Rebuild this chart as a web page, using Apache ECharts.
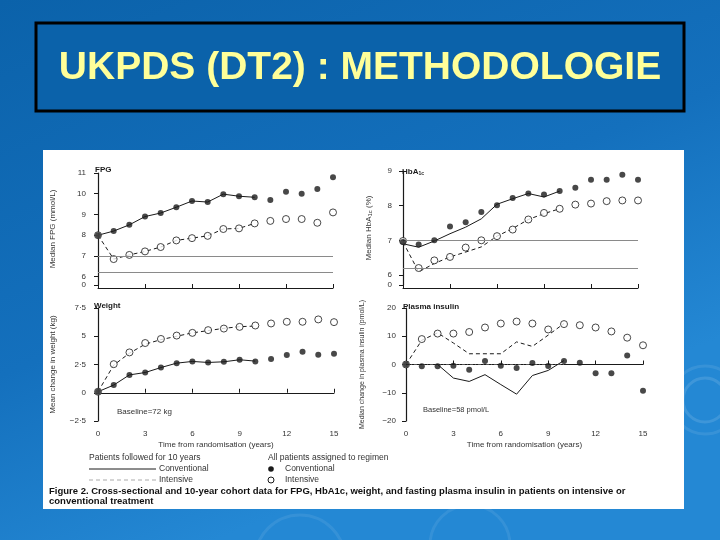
<!DOCTYPE html>
<html>
<head>
<meta charset="utf-8">
<script src="https://cdn.jsdelivr.net/npm/echarts@6/dist/echarts.min.js"></script>
<style>
  html, body { margin: 0; padding: 0; }
  #main { width: 720px; height: 540px; }
</style>
</head>
<body>
<div id="main"></div>
<script>
// years of follow-up
const years = [0, 1, 2, 3, 4, 5, 6, 7, 8, 9, 10, 11, 12, 13, 14, 15]
const cohortYears = [0, 1, 2, 3, 4, 5, 6, 7, 8, 9, 10]

// FPG (mmol/L)
const fpgConv = [8.0, 8.2, 8.5, 8.9, 9.07, 9.35, 9.65, 9.6, 9.98, 9.88, 9.83, 9.7, 10.1, 10.0, 10.23, 10.8]
const fpgInt = [8.0, 6.85, 7.05, 7.22, 7.43, 7.75, 7.86, 7.97, 8.3, 8.33, 8.57, 8.69, 8.78, 8.78, 8.6, 9.1]
const fpgConvCohort = [8.0, 8.2, 8.5, 8.9, 9.07, 9.35, 9.65, 9.6, 9.98, 9.88, 9.83]
const fpgIntCohort = [8.0, 6.85, 7.05, 7.22, 7.43, 7.75, 7.86, 7.97, 8.3, 8.33, 8.57]

// HbA1c (%)
const hbConv = [6.95, 6.88, 7.0, 7.4, 7.52, 7.82, 8.01, 8.22, 8.35, 8.32, 8.42, 8.52, 8.75, 8.75, 8.89, 8.75]
const hbInt = [6.98, 6.2, 6.42, 6.52, 6.79, 7.0, 7.12, 7.31, 7.6, 7.79, 7.91, 8.03, 8.06, 8.13, 8.15, 8.15]
const hbConvCohort = [6.9, 6.8, 6.98, 7.19, 7.38, 7.62, 8.04, 8.2, 8.35, 8.25, 8.42]
const hbIntCohort = [6.95, 6.09, 6.33, 6.52, 6.66, 6.81, 7.12, 7.34, 7.6, 7.77, 7.91]

// weight change (kg)
const wtConv = [0.09, 0.68, 1.58, 1.79, 2.23, 2.62, 2.77, 2.68, 2.74, 2.92, 2.77, 2.98, 3.33, 3.63, 3.36, 3.45]
const wtInt = [0.09, 2.53, 3.57, 4.4, 4.76, 5.06, 5.3, 5.54, 5.68, 5.83, 5.95, 6.13, 6.28, 6.28, 6.49, 6.25]
const wtConvCohort = [0.09, 0.68, 1.58, 1.79, 2.23, 2.62, 2.77, 2.68, 2.74, 2.92, 2.8]
const wtIntCohort = [0.09, 2.45, 3.5, 4.3, 4.7, 5.0, 5.3, 5.5, 5.7, 5.85, 5.9]

// plasma insulin change (pmol/L)
const insConv = [0, -0.6, -0.6, -0.4, -1.9, 1.2, -0.4, -1.2, 0.5, -0.5, 1.2, 0.6, -3.1, -3.1, 3.2, -9.3]
const insInt = [0, 9.0, 10.95, 10.95, 11.5, 13.1, 14.5, 15.2, 14.5, 12.4, 14.3, 13.9, 13.1, 11.7, 9.5, 6.8]
const insConvCohort = [0, 0, 0, -4.8, -6.0, -3.6, -7.1, -10.5, -3.9, -2.1, 1.4]
const insIntCohort = [0, 8.6, 11.2, 7.6, 3.8, 3.8, 3.8, 8.0, 6.4, 10.4, 14.5]

const FONT = '"Liberation Sans", Arial, sans-serif'
const ink = '#1a1a1a'

const pairs = (xs, ys) => xs.map((x, i) => [x, ys[i]])
const dot = v => String(v).replace('.', '\u00b7').replace('-', '\u2212')

function panelSeries(idx, conv, int, convC, intC, marks) {
  return [
    {
      type: 'line', xAxisIndex: idx, yAxisIndex: idx, data: pairs(cohortYears, convC),
      symbol: 'none', lineStyle: { color: ink, width: 1 }, z: 3, markLine: marks
    },
    {
      type: 'line', xAxisIndex: idx, yAxisIndex: idx, data: pairs(cohortYears, intC),
      symbol: 'none', lineStyle: { color: ink, width: 1, type: [4, 3] }, z: 3
    },
    {
      type: 'scatter', xAxisIndex: idx, yAxisIndex: idx, data: pairs(years, conv),
      symbol: 'circle', symbolSize: 6, itemStyle: { color: ink }, z: 5
    },
    {
      type: 'scatter', xAxisIndex: idx, yAxisIndex: idx, data: pairs(years, int),
      symbol: 'circle', symbolSize: 7, itemStyle: { color: '#fff', borderColor: ink, borderWidth: 1 }, z: 4
    }
  ]
}

const refLines = {
  silent: true, symbol: 'none', label: { show: false },
  lineStyle: { color: '#8a8a8a', width: 1, type: 'solid' },
  data: [{ yAxis: 7 }, { yAxis: 6.2 }]
}
const zeroLine = {
  silent: true, symbol: 'none', label: { show: false },
  lineStyle: { color: '#555', width: 1, type: [3, 2, 1, 2] },
  data: [[{ coord: [0, 0] }, { coord: [10, 0] }]]
}

function xAx(idx, withLabels) {
  return {
    type: 'value', gridIndex: idx, min: 0, max: 15, interval: 3, offset: withLabels ? 4 : 3,
    axisLine: { lineStyle: { color: ink } },
    axisTick: { inside: true, length: 4, lineStyle: { color: ink } },
    axisLabel: { show: withLabels, fontSize: 8, color: '#333', fontFamily: FONT, margin: 5 },
    splitLine: { show: false },
    name: withLabels ? 'Time from randomisation (years)' : '',
    nameLocation: 'middle', nameGap: 16,
    nameTextStyle: { fontSize: 8, color: '#333', fontFamily: FONT }
  }
}

function yAx(idx, cfg) {
  const ax = {
    type: 'value', gridIndex: idx, min: cfg.min, max: cfg.max, offset: cfg.offset,
    axisLine: { show: true, lineStyle: { color: ink, width: 1.2 } },
    axisTick: { show: true, length: 4, lineStyle: { color: ink } },
    axisLabel: { fontSize: 8, color: '#333', fontFamily: FONT, margin: 3, formatter: cfg.fmt || dot },
    splitLine: { show: false },
    name: cfg.name, nameLocation: 'middle', nameGap: cfg.gap, nameRotate: 90,
    nameTextStyle: { fontSize: cfg.nameSize || 8, color: '#333', fontFamily: FONT, rich: { s: { fontSize: 6, verticalAlign: 'bottom' } } }
  }
  if (cfg.interval) ax.interval = cfg.interval
  if (cfg.ticks) {
    ax.axisLabel.customValues = cfg.ticks
    ax.axisTick.customValues = cfg.ticks
  }
  return ax
}

const fpgTicks = [5.6, 6, 7, 8, 9, 10, 11]
const hbTicks = [5.71, 6, 7, 8, 9]
const brk = lowest => v => (v < lowest + 0.2 ? '0' : String(v))

const chart = echarts.init(document.getElementById('main'))

const panelTitle = (text, left, top) => ({
  text, left, top,
  textStyle: { fontSize: 8, fontWeight: 'bold', color: ink, fontFamily: FONT,
    rich: { s: { fontSize: 5, fontWeight: 'bold', color: ink, verticalAlign: 'bottom' } } }
})

const smallText = (x, y, text, opts) => ({
  type: 'text', x, y, z: 10,
  style: Object.assign({ text, fill: '#333', font: '8.5px ' + FONT, textVerticalAlign: 'middle' }, opts || {})
})

chart.setOption({
  backgroundColor: {
    type: 'linear', x: 0, y: 0, x2: 0.3, y2: 1,
    colorStops: [{ offset: 0, color: '#0b62aa' }, { offset: 0.6, color: '#1470bd' }, { offset: 1, color: '#2488d4' }]
  },
  animation: false,
  title: [
    panelTitle('FPG', 90, 161),
    panelTitle('HbA{s|1c}', 397, 163),
    panelTitle('Weight', 89, 297),
    panelTitle('Plasma insulin', 398, 298)
  ],
  grid: [
    { left: 98, top: 173, width: 235, height: 112 },
    { left: 403, top: 171, width: 235, height: 114 },
    { left: 98, top: 308, width: 236, height: 113 },
    { left: 406, top: 308, width: 237, height: 113 }
  ],
  xAxis: [xAx(0, false), xAx(1, false), xAx(2, true), xAx(3, true)],
  yAxis: [
    yAx(0, { min: 5.6, max: 11, offset: 9, ticks: fpgTicks, fmt: brk(5.6), name: 'Median FPG (mmol/L)', gap: 32 }),
    yAx(1, { min: 5.71, max: 9, offset: 8, ticks: hbTicks, fmt: brk(5.71), name: 'Median HbA{s|1c} (%)', gap: 22 }),
    yAx(2, { min: -2.5, max: 7.5, interval: 2.5, offset: 9, name: 'Mean change in weight (kg)', gap: 32 }),
    yAx(3, { min: -20, max: 20, interval: 10, offset: 7, name: 'Median change in plasma insulin (pmol/L)', gap: 33, nameSize: 7 })
  ],
  series: [
    ...panelSeries(0, fpgConv, fpgInt, fpgConvCohort, fpgIntCohort, refLines),
    ...panelSeries(1, hbConv, hbInt, hbConvCohort, hbIntCohort, refLines),
    ...panelSeries(2, wtConv, wtInt, wtConvCohort, wtIntCohort, undefined),
    ...panelSeries(3, insConv, insInt, insConvCohort, insIntCohort, zeroLine)
  ],
  graphic: [
    // ripples on the slide background
    { type: 'circle', shape: { cx: 705, cy: 400, r: 22 }, style: { fill: 'none', stroke: 'rgba(255,255,255,0.12)', lineWidth: 3 }, z: -5 },
    { type: 'circle', shape: { cx: 705, cy: 400, r: 34 }, style: { fill: 'none', stroke: 'rgba(255,255,255,0.09)', lineWidth: 3 }, z: -5 },
    { type: 'circle', shape: { cx: 300, cy: 560, r: 45 }, style: { fill: 'none', stroke: 'rgba(255,255,255,0.08)', lineWidth: 3 }, z: -5 },
    { type: 'circle', shape: { cx: 470, cy: 545, r: 40 }, style: { fill: 'none', stroke: 'rgba(255,255,255,0.08)', lineWidth: 3 }, z: -5 },
    // title box
    { type: 'rect', shape: { x: 36, y: 23, width: 648, height: 88 }, style: { fill: '#0b62aa', stroke: '#000', lineWidth: 3 }, z: -2 },
    { type: 'text', x: 360, y: 68, z: 10,
      style: { text: 'UKPDS (DT2) : METHODOLOGIE', fill: '#ffff99', font: 'bold 39px ' + FONT, textAlign: 'center', textVerticalAlign: 'middle' } },
    // the white figure sheet
    { type: 'rect', shape: { x: 43, y: 150, width: 641, height: 359 }, style: { fill: '#fff' }, z: -1 },
    // notes in panels
    smallText(117, 412, 'Baseline=72 kg', { font: '8px ' + FONT }),
    smallText(423, 410, 'Baseline=58 pmol/L', { font: '7.5px ' + FONT }),
    // legend
    smallText(89, 458, 'Patients followed for 10 years'),
    { type: 'line', shape: { x1: 89, y1: 469, x2: 156, y2: 469 }, style: { stroke: ink, lineWidth: 1 }, z: 10 },
    smallText(159, 469, 'Conventional'),
    { type: 'line', shape: { x1: 89, y1: 480, x2: 156, y2: 480 }, style: { stroke: '#aaa', lineWidth: 1, lineDash: [4, 3] }, z: 10 },
    smallText(159, 480, 'Intensive'),
    smallText(268, 458, 'All patients assigned to regimen'),
    { type: 'circle', shape: { cx: 271, cy: 469, r: 2.8 }, style: { fill: ink }, z: 10 },
    smallText(285, 469, 'Conventional'),
    { type: 'circle', shape: { cx: 271, cy: 480, r: 3 }, style: { fill: '#fff', stroke: ink, lineWidth: 1 }, z: 10 },
    smallText(285, 480, 'Intensive'),
    // caption
    smallText(49, 491, 'Figure 2. Cross-sectional and 10-year cohort data for FPG, HbA1c, weight, and fasting plasma insulin in patients on intensive or',
      { fill: '#111', font: 'bold 9.5px ' + FONT }),
    smallText(49, 501, 'conventional treatment', { fill: '#111', font: 'bold 9.5px ' + FONT })
  ]
})
</script>
</body>
</html>
